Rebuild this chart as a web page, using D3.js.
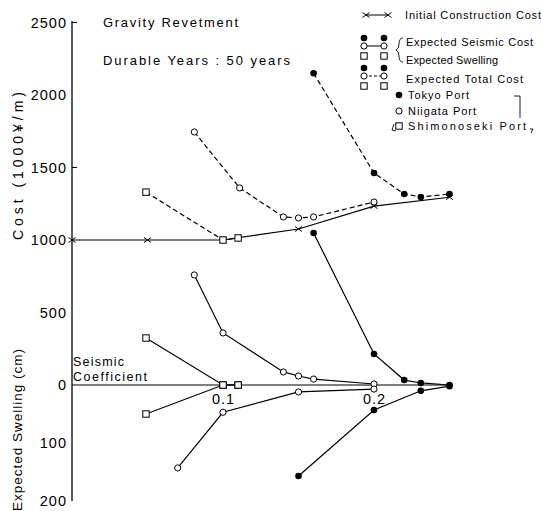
<!DOCTYPE html>
<html>
<head>
<meta charset="utf-8">
<script src="https://cdn.jsdelivr.net/npm/d3@7"></script>
<style>
  body { margin: 0; background: #fff; }
  svg { display: block; font-family: "Liberation Sans", Arial, sans-serif; }
</style>
</head>
<body>
<div id="container"></div>
<script>
// values (seismic coefficient -> cost 1000 yen/m, swelling cm)
const initCoef = [0, 0.05, 0.1, 0.15, 0.2, 0.25];
const initCost = [1000, 1000, 1000, 1076, 1234, 1295];

const tokyoCostCoef = [0.16, 0.2, 0.22, 0.231, 0.25];
const tokyoTotal = [2150, 1462, 1317, 1297, 1317];
const tokyoSeismic = [1048, 214, 34, 14, 0];
const tokyoSwellCoef = [0.15, 0.2, 0.231, 0.25];
const tokyoSwell = [157, 43, 10, 2];

const niigataTotalCoef = [0.081, 0.111, 0.14, 0.15, 0.16, 0.2];
const niigataTotal = [1745, 1359, 1159, 1152, 1159, 1262];
const niigataSeismicCoef = [0.081, 0.1, 0.14, 0.15, 0.16, 0.2];
const niigataSeismic = [759, 359, 90, 62, 41, 7];
const niigataSwellCoef = [0.07, 0.1, 0.15, 0.2];
const niigataSwell = [143, 47, 12, 7];

const shimoCoef = [0.049, 0.1, 0.11];
const shimoTotal = [1330, 1000, 1014];
const shimoSeismic = [324, 0, 0];
const shimoSwell = [50, 0, 0];

const costTicks = [2500, 2000, 1500, 1000, 500, 0];
const swellTicks = [100, 200];
const coefTicks = [0.1, 0.2];

const width = 541;
const height = 511;

const x = d3.scaleLinear([0, 0.25], [72, 449.5]);
const yCost = d3.scaleLinear([0, 2500], [385, 22.5]);
const ySwell = d3.scaleLinear([0, 200], [385, 501]);

const svg = d3.create("svg")
  .attr("width", width)
  .attr("height", height);

// axes
svg.append("line")
  .attr("x1", x(0)).attr("x2", x(0))
  .attr("y1", yCost(2510)).attr("y2", ySwell(200))
  .attr("stroke", "#000").attr("stroke-width", 1.3);
svg.append("line")
  .attr("x1", x(0)).attr("x2", x(0.25))
  .attr("y1", yCost(0)).attr("y2", yCost(0))
  .attr("stroke", "#000").attr("stroke-width", 1.1);
[2500, 1500].forEach(v => {
  svg.append("line")
    .attr("x1", x(0)).attr("x2", x(0) + 5)
    .attr("y1", yCost(v)).attr("y2", yCost(v))
    .attr("stroke", "#000").attr("stroke-width", 1);
});

const tickFont = g => g.selectAll("text")
  .attr("font-size", 14.5).attr("fill", "#000")
  .attr("font-family", "\"Liberation Sans\", Arial, sans-serif")
  .style("letter-spacing", "1px");

svg.append("g")
  .attr("transform", `translate(${x(0)},0)`)
  .call(d3.axisLeft(yCost).tickValues(costTicks).tickSize(0).tickPadding(5).tickFormat(d3.format("d")))
  .call(g => g.select(".domain").remove())
  .call(tickFont);

svg.append("g")
  .attr("transform", `translate(${x(0)},0)`)
  .call(d3.axisLeft(ySwell).tickValues(swellTicks).tickSize(0).tickPadding(5))
  .call(g => g.select(".domain").remove())
  .call(tickFont);

svg.append("g")
  .attr("transform", `translate(0,${yCost(0)})`)
  .call(d3.axisBottom(x).tickValues(coefTicks).tickSize(0).tickPadding(9).tickFormat(d3.format(".1f")))
  .call(g => g.select(".domain").remove())
  .call(tickFont);

// series
const zip = (c, v) => c.map((d, i) => ({c: d, v: v[i]}));
const series = [
  {pts: zip(initCoef, initCost), y: yCost, dash: null, mark: "cross"},
  {pts: zip(tokyoCostCoef, tokyoTotal), y: yCost, dash: "5,3", mark: "dot"},
  {pts: zip(niigataTotalCoef, niigataTotal), y: yCost, dash: "5,3", mark: "circle"},
  {pts: zip(shimoCoef, shimoTotal), y: yCost, dash: "5,3", mark: "square"},
  {pts: zip(tokyoCostCoef, tokyoSeismic), y: yCost, dash: null, mark: "dot"},
  {pts: zip(niigataSeismicCoef, niigataSeismic), y: yCost, dash: null, mark: "circle"},
  {pts: zip(shimoCoef, shimoSeismic), y: yCost, dash: null, mark: "square"},
  {pts: zip(tokyoSwellCoef, tokyoSwell), y: ySwell, dash: null, mark: "dot"},
  {pts: zip(niigataSwellCoef, niigataSwell), y: ySwell, dash: null, mark: "circle"},
  {pts: zip(shimoCoef, shimoSwell), y: ySwell, dash: null, mark: "square"}
];

series.forEach(s => {
  const line = d3.line().x(d => x(d.c)).y(d => s.y(d.v));
  svg.append("path")
    .attr("fill", "none")
    .attr("stroke", "#000")
    .attr("stroke-width", 1.2)
    .attr("stroke-dasharray", s.dash)
    .attr("d", line(s.pts));
});

function marker(g, type, cx, cy) {
  if (type === "dot") {
    g.append("circle").attr("cx", cx).attr("cy", cy).attr("r", 3.3).attr("fill", "#000");
  } else if (type === "circle") {
    g.append("circle").attr("cx", cx).attr("cy", cy).attr("r", 3.1)
      .attr("fill", "#fff").attr("stroke", "#000").attr("stroke-width", 1);
  } else if (type === "square") {
    g.append("rect").attr("x", cx - 3.2).attr("y", cy - 3.2).attr("width", 6.4).attr("height", 6.4)
      .attr("fill", "#fff").attr("stroke", "#000").attr("stroke-width", 1);
  } else {
    g.append("path")
      .attr("d", `M${cx - 3.5},${cy - 2.5}L${cx + 3.5},${cy + 2.5}M${cx - 3.5},${cy + 2.5}L${cx + 3.5},${cy - 2.5}`)
      .attr("stroke", "#000").attr("stroke-width", 1);
  }
}

const marks = svg.append("g");
series.forEach(s => {
  s.pts.forEach(d => marker(marks, s.mark, x(d.c), s.y(d.v)));
});

// texts
function label(txt, tx, ty, size, len) {
  const t = svg.append("text")
    .attr("x", tx).attr("y", ty)
    .attr("font-size", size)
    .attr("fill", "#000")
    .text(txt);
  if (len) t.attr("textLength", len).attr("lengthAdjust", "spacing");
  return t;
}

label("Gravity Revetment", 103, 27, 13, 135);
label("Durable Years : 50 years", 103, 65, 13, 187);
label("Seismic", 73, 366, 12.5, 51);
label("Coefficient", 73, 381, 12.5, 74);

svg.append("text")
  .attr("transform", "translate(23,166) rotate(-90)")
  .attr("text-anchor", "middle")
  .attr("font-size", 14)
  .attr("textLength", 148).attr("lengthAdjust", "spacing")
  .text("Cost (1000¥/m)");
svg.append("text")
  .attr("transform", "translate(22,430) rotate(-90)")
  .attr("text-anchor", "middle")
  .attr("font-size", 13.5)
  .attr("textLength", 162).attr("lengthAdjust", "spacing")
  .text("Expected Swelling (cm)");

// legend
const lg = svg.append("g");
lg.append("line").attr("x1", 366).attr("x2", 387).attr("y1", 15).attr("y2", 15)
  .attr("stroke", "#000").attr("stroke-width", 1);
marker(lg, "cross", 366, 15);
marker(lg, "cross", 388, 15);
label("Initial Construction Cost", 405, 19, 11, 136);

[[0, null], [30, "3,2"]].forEach(([dy, dash]) => {
  lg.append("line").attr("x1", 364).attr("x2", 384).attr("y1", 46 + dy).attr("y2", 46 + dy)
    .attr("stroke", "#000").attr("stroke-width", 1).attr("stroke-dasharray", dash);
  [364, 384].forEach(cx => {
    marker(lg, "dot", cx, 38 + dy);
    marker(lg, "circle", cx, 46 + dy);
    marker(lg, "square", cx, 56 + dy);
  });
});
label("Expected Seismic Cost", 406, 46, 11, 127);
label("Expected Swelling", 406, 64, 11, 92);
label("Expected Total Cost", 406, 83, 11, 117);
lg.append("path")
  .attr("d", "M403,38Q399,38 399,44Q399,49 396,50Q399,51 399,56Q399,62 403,62")
  .attr("fill", "none").attr("stroke", "#000").attr("stroke-width", 0.9);

marker(lg, "dot", 399, 95);
label("Tokyo Port", 408, 99, 11, 61);
marker(lg, "circle", 399, 111);
label("Niigata Port", 408, 115, 11, 68);
marker(lg, "square", 399, 126);
label("Shimonoseki Port", 408, 130, 11, 118);
lg.append("path")
  .attr("d", "M514,96L520,96L520,118M394,124L392,130L396,131M530,129L533,129L531,133")
  .attr("fill", "none").attr("stroke", "#000").attr("stroke-width", 0.9);

document.getElementById("container").append(svg.node());
</script>
</body>
</html>
